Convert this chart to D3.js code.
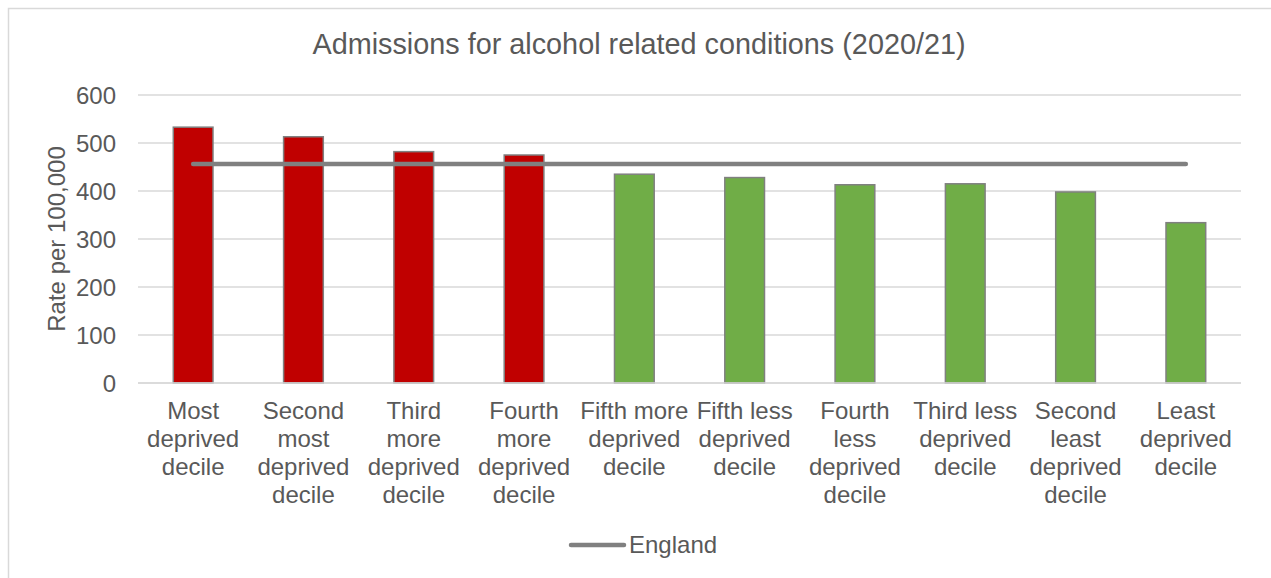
<!DOCTYPE html>
<html><head><meta charset="utf-8">
<script src="https://cdn.jsdelivr.net/npm/d3@7"></script>
<style>body{margin:0;background:#fff;}svg{display:block;font-family:"Liberation Sans",Arial,sans-serif;}</style>
</head><body><svg id="c" width="1271" height="578"></svg>
<script>
const categories = ["Most deprived decile","Second most deprived decile","Third more deprived decile","Fourth more deprived decile","Fifth more deprived decile","Fifth less deprived decile","Fourth less deprived decile","Third less deprived decile","Second least deprived decile","Least deprived decile"];
const labelLines = [["Most","deprived","decile"],["Second","most","deprived","decile"],["Third","more","deprived","decile"],["Fourth","more","deprived","decile"],["Fifth more","deprived","decile"],["Fifth less","deprived","decile"],["Fourth","less","deprived","decile"],["Third less","deprived","decile"],["Second","least","deprived","decile"],["Least","deprived","decile"]];
const rates = [533, 513, 482, 475, 435, 428, 413, 415, 398, 334];
const england = [456, 456, 456, 456, 456, 456, 456, 456, 456, 456];
const barColors = ["#C00000","#C00000","#C00000","#C00000","#70AD47","#70AD47","#70AD47","#70AD47","#70AD47","#70AD47"];
const yTicks = [0,100,200,300,400,500,600];

const svg = d3.select("#c");
svg.append("rect").attr("x",8.5).attr("y",8.5).attr("width",1300).attr("height",600)
  .attr("fill","#fff").attr("stroke","#D9D9D9").attr("stroke-width",1.5);

const pL=138, pR=1241, pT=95, pB=383;
const x = d3.scaleBand().domain(categories).range([pL,pR]).paddingInner(0.64).paddingOuter(0.32);
const y = d3.scaleLinear().domain([0,600]).range([pB,pT]);

// gridlines
svg.append("g").selectAll("line").data(yTicks).join("line")
  .attr("x1",pL).attr("x2",pR).attr("y1",d=>y(d)).attr("y2",d=>y(d))
  .attr("stroke","#D9D9D9").attr("stroke-width",1.3);

// y axis labels
const yAxis = d3.axisLeft(y).tickValues(yTicks).tickSize(0).tickPadding(0);
const ga = svg.append("g").attr("transform",`translate(${pL-22},0)`).call(yAxis);
ga.select(".domain").remove();
ga.selectAll("text").attr("font-size",24).attr("fill","#595959").attr("dy","0.34em").attr("font-family","'Liberation Sans',Arial,sans-serif");

// bars
svg.append("g").selectAll("rect").data(categories).join("rect")
  .attr("x",d=>x(d)).attr("width",x.bandwidth())
  .attr("y",(d,i)=>y(rates[i])).attr("height",(d,i)=>y(0)-y(rates[i]))
  .attr("fill",(d,i)=>barColors[i]).attr("stroke","#808080").attr("stroke-width",1.5);

// x axis baseline
svg.append("line").attr("x1",pL).attr("x2",pR).attr("y1",y(0)).attr("y2",y(0)).attr("stroke","#D9D9D9").attr("stroke-width",1.5);

// England line
const line = d3.line().x((d,i)=>x(categories[i])+x.bandwidth()/2).y(d=>y(d));
svg.append("path").datum(england).attr("d",line).attr("fill","none")
  .attr("stroke","#808080").attr("stroke-width",4.5).attr("stroke-linecap","round");

// x labels
const xl = svg.append("g");
categories.forEach((c,i)=>{
  const t = xl.append("text").attr("text-anchor","middle").attr("font-size",24).attr("fill","#595959");
  labelLines[i].forEach((s,j)=>{
    t.append("tspan").attr("x",x(c)+x.bandwidth()/2).attr("y",419+j*28).text(s);
  });
});

// y title
svg.append("text").attr("transform","translate(65,239) rotate(-90)").attr("text-anchor","middle")
  .attr("font-size",24).attr("fill","#595959").text("Rate per 100,000");

// title
svg.append("text").attr("x",639).attr("y",54).attr("text-anchor","middle")
  .attr("font-size",28.8).attr("fill","#595959").text("Admissions for alcohol related conditions (2020/21)");

// legend
svg.append("line").attr("x1",571).attr("x2",624).attr("y1",545).attr("y2",545)
  .attr("stroke","#808080").attr("stroke-width",4.5).attr("stroke-linecap","round");
svg.append("text").attr("x",629).attr("y",553).attr("font-size",24).attr("fill","#595959").text("England");
</script></body></html>
